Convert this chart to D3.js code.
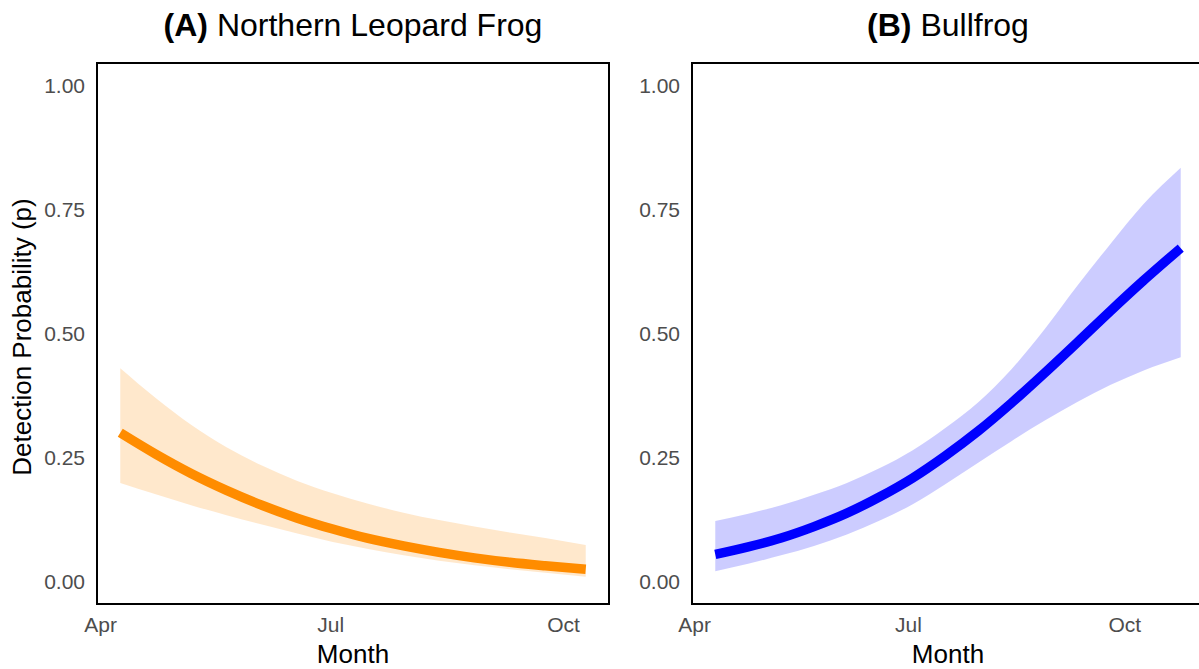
<!DOCTYPE html>
<html>
<head>
  <meta charset="utf-8">
  <title>Detection probability by month</title>
  <style>
    body { margin: 0; background: #fff; }
    text { font-family: "Liberation Sans", Arial, sans-serif; }
    .tick text { fill: #4d4d4d; font-size: 21px; }
  </style>
</head>
<body>
  <div id="chart"></div>
  <script src="https://d3js.org/d3.v7.min.js"></script>
  <script>
// Northern Leopard Frog (panel A)
var frogDates = ["2020-04-09", "2020-04-23", "2020-05-07", "2020-05-21", "2020-06-04", "2020-06-18", "2020-07-02",
                 "2020-07-16", "2020-07-30", "2020-08-13", "2020-08-27", "2020-09-10", "2020-09-24", "2020-10-10"];
var frogP  = [0.300, 0.257, 0.218, 0.184, 0.154, 0.128, 0.106, 0.087, 0.072, 0.059, 0.048, 0.039, 0.032, 0.025];
var frogLo = [0.199, 0.176, 0.154, 0.134, 0.115, 0.097, 0.080, 0.066, 0.053, 0.042, 0.033, 0.025, 0.018, 0.010];
var frogHi = [0.430, 0.370, 0.316, 0.271, 0.234, 0.203, 0.178, 0.157, 0.139, 0.124, 0.111, 0.099, 0.088, 0.074];

// Bullfrog (panel B)
var bullDates = ["2020-04-10", "2020-04-24", "2020-05-08", "2020-05-22", "2020-06-05", "2020-06-19", "2020-07-03", "2020-07-17",
                 "2020-07-31", "2020-08-14", "2020-08-28", "2020-09-11", "2020-09-25", "2020-10-09", "2020-10-25"];
var bullP  = [0.055, 0.070, 0.088, 0.111, 0.138, 0.171, 0.209, 0.254, 0.304, 0.360, 0.420, 0.482, 0.545, 0.606, 0.672];
var bullLo = [0.021, 0.036, 0.053, 0.072, 0.095, 0.123, 0.156, 0.197, 0.240, 0.283, 0.324, 0.362, 0.396, 0.425, 0.452];
var bullHi = [0.122, 0.137, 0.154, 0.175, 0.199, 0.229, 0.265, 0.310, 0.362, 0.428, 0.508, 0.596, 0.680, 0.760, 0.834];

var yTicks = [0, 0.25, 0.5, 0.75, 1];
var monthTicks = ["2020-04-01", "2020-07-01", "2020-10-01"];

var panels = [
  { tag: "(A)", name: " Northern Leopard Frog", dates: frogDates, p: frogP, lo: frogLo, hi: frogHi, color: "#ff8c00", left: 97 },
  { tag: "(B)", name: " Bullfrog", dates: bullDates, p: bullP, lo: bullLo, hi: bullHi, color: "#0000ff", left: 692 }
];

var W = 1199, H = 669;
var plotTop = 63, plotBottom = 604, pw = 512;
var parse = d3.utcParse("%Y-%m-%d");

var svg = d3.select("#chart")
  .append("svg")
  .attr("width", W)
  .attr("height", H);

var y = d3.scaleLinear().domain([-0.045, 1.045]).range([plotBottom, plotTop]);

panels.forEach(function(pn) {
  var rows = pn.dates.map(function(d, i) {
    return { date: parse(d), p: pn.p[i], lo: pn.lo[i], hi: pn.hi[i] };
  });

  // ggplot-style 5% padding on the date range
  var ext = d3.extent(rows, function(d) { return d.date; });
  var pad = (ext[1] - ext[0]) * 0.05;
  var x = d3.scaleUtc()
    .domain([new Date(+ext[0] - pad), new Date(+ext[1] + pad)])
    .range([pn.left, pn.left + pw]);

  var g = svg.append("g");

  g.append("path")
    .datum(rows)
    .attr("fill", pn.color)
    .attr("fill-opacity", 0.2)
    .attr("d", d3.area()
      .curve(d3.curveMonotoneX)
      .x(function(d) { return x(d.date); })
      .y0(function(d) { return y(d.lo); })
      .y1(function(d) { return y(d.hi); }));

  g.append("path")
    .datum(rows)
    .attr("fill", "none")
    .attr("stroke", pn.color)
    .attr("stroke-width", 9.5)
    .attr("d", d3.line()
      .curve(d3.curveMonotoneX)
      .x(function(d) { return x(d.date); })
      .y(function(d) { return y(d.p); }));

  // panel border
  g.append("rect")
    .attr("x", pn.left)
    .attr("y", plotTop)
    .attr("width", pw)
    .attr("height", plotBottom - plotTop)
    .attr("fill", "none")
    .attr("stroke", "#000")
    .attr("stroke-width", 2);

  var ya = g.append("g")
    .attr("transform", "translate(" + pn.left + ",0)")
    .call(d3.axisLeft(y).tickValues(yTicks).tickSize(0).tickPadding(12).tickFormat(d3.format(".2f")));
  ya.select(".domain").remove();
  ya.selectAll(".tick text").attr("dy", "0.34em");

  var xa = g.append("g")
    .attr("transform", "translate(0," + plotBottom + ")")
    .call(d3.axisBottom(x).tickValues(monthTicks.map(parse)).tickSize(0).tickPadding(0)
      .tickFormat(d3.utcFormat("%b")));
  xa.select(".domain").remove();
  xa.selectAll(".tick text").attr("dy", null).attr("y", 28);

  var cx = pn.left + pw / 2;

  var title = g.append("text")
    .attr("x", cx)
    .attr("y", 36)
    .attr("text-anchor", "middle")
    .attr("font-size", 32)
    .attr("fill", "#000");
  title.append("tspan").attr("font-weight", "bold").text(pn.tag);
  title.append("tspan").text(pn.name);

  g.append("text")
    .attr("x", cx)
    .attr("y", 663)
    .attr("text-anchor", "middle")
    .attr("font-size", 26)
    .attr("fill", "#000")
    .text("Month");
});

svg.append("text")
  .attr("transform", "translate(31,337) rotate(-90)")
  .attr("text-anchor", "middle")
  .attr("font-size", 26)
  .attr("fill", "#000")
  .text("Detection Probability (p)");
  </script>
</body>
</html>
